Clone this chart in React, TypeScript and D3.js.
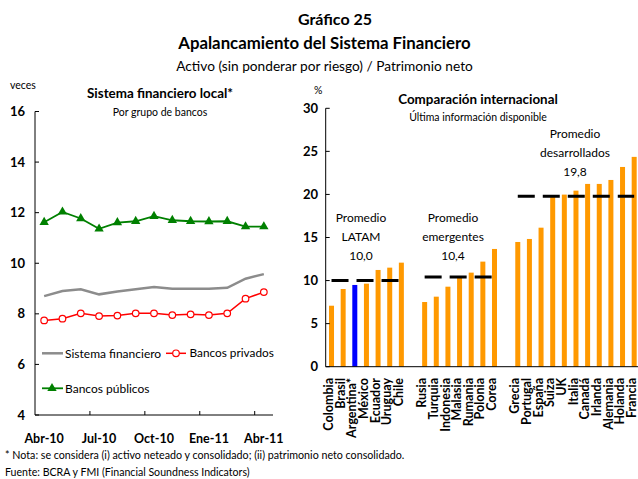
import React from "react";
import * as d3 from "d3";

const months = ["Abr-10","May-10","Jun-10","Jul-10","Ago-10","Sep-10","Oct-10","Nov-10","Dic-10","Ene-11","Feb-11","Mar-11","Abr-11"];
const monthTickLabels = ["Abr-10","Jul-10","Oct-10","Ene-11","Abr-11"];
const sistemaFinanciero = [8.70, 8.90, 8.97, 8.77, 8.88, 8.97, 9.06, 8.99, 8.99, 8.99, 9.03, 9.39, 9.57];
const bancosPrivados = [7.74, 7.81, 8.02, 7.91, 7.93, 8.02, 8.02, 7.95, 7.98, 7.95, 8.02, 8.60, 8.86];
const bancosPublicos = [11.62, 12.03, 11.77, 11.36, 11.61, 11.66, 11.86, 11.70, 11.66, 11.65, 11.66, 11.45, 11.45];
const leftTicks = [4, 6, 8, 10, 12, 14, 16];

const latam = ["Colombia","Brasil","Argentina*","México","Ecuador","Uruguay","Chile"];
const latamValues = [7.08, 9.02, 9.49, 9.64, 11.23, 11.5, 12.08];
const emergentes = ["Rusia","Turquia","Indonesia","Malasia","Rumania","Polonia","Corea"];
const emergentesValues = [7.51, 8.13, 9.29, 10.53, 10.92, 12.2, 13.67];
const desarrollados = ["Grecia","Portugal","España","Suiza","UK","Italia","Canadá","Irlanda","Alemania","Holanda","Francia"];
const desarrolladosValues = [14.48, 14.83, 16.14, 19.74, 19.98, 20.44, 21.22, 21.22, 21.68, 23.19, 24.36];
const promedios = [10.0, 10.4, 19.8];
const promedioLabels = [["Promedio", "LATAM", "10,0"], ["Promedio", "emergentes", "10,4"], ["Promedio", "desarrollados", "19,8"]];
const rightTicks = [0, 5, 10, 15, 20, 25, 30];

const FONT = "Lato, 'Open Sans', sans-serif";

export default function App() {
  const xL = d3.scaleBand<string>().domain(months).range([35, 273]);
  const yL = d3.scaleLinear().domain([4, 16]).range([415, 111.5]);
  const cx = (m: string) => (xL(m) as number) + xL.bandwidth() / 2;
  const line = d3.line<number>().x((_, i) => cx(months[i])).y((d) => yL(d));

  const groups = [latam, emergentes, desarrollados];
  const groupValues = [latamValues, emergentesValues, desarrolladosValues];
  const slots: string[] = [];
  groups.forEach((g, gi) => {
    g.forEach((c) => slots.push(c));
    if (gi < groups.length - 1) slots.push("__gap" + gi);
  });
  const xR = d3.scaleBand<string>().domain(slots).range([325.7, 640]);
  const yR = d3.scaleLinear().domain([0, 30]).range([366.7, 108.3]);
  const bw = 5;
  const rc = (c: string) => (xR(c) as number) + xR.bandwidth() / 2;

  const tri = d3.symbol().type(d3.symbolTriangle).size(38)() as string;

  const labelPos = [
    { x: 361, y: 218 },
    { x: 453, y: 218 },
    { x: 575, y: 134 },
  ];

  return (
    <svg width={638} height={479} style={{ position: "absolute", left: 0, top: 0, background: "#fff" }} fontFamily={FONT}>
      <rect width={638} height={479} fill="#fff" />
      <text x={335} y={25} textAnchor="middle" fontSize={16} fontWeight="bold">Gráfico 25</text>
      <text x={324.5} y={49} textAnchor="middle" fontSize={16.8} fontWeight="bold">Apalancamiento del Sistema Financiero</text>
      <text x={324.5} y={71} textAnchor="middle" fontSize={13.7}>Activo (sin ponderar por riesgo) / Patrimonio neto</text>

      {/* Left chart */}
      <text x={10} y={89} fontSize={10.5}>veces</text>
      <text x={160} y={98} textAnchor="middle" fontSize={13.4} fontWeight="bold">Sistema financiero local*</text>
      <text x={160} y={116} textAnchor="middle" fontSize={10.5}>Por grupo de bancos</text>
      <line x1={35} x2={35} y1={111.5} y2={415} stroke="#000" />
      <line x1={35} x2={273} y1={415} y2={415} stroke="#000" />
      {leftTicks.map((t) => (
        <g key={t}>
          <line x1={35} x2={39} y1={yL(t)} y2={yL(t)} stroke="#000" />
          <text x={25} y={yL(t)} dy="0.35em" textAnchor="end" fontSize={13} fontWeight="bold">{t}</text>
        </g>
      ))}
      {[3, 6, 9, 12].map((i) => (
        <line key={i} x1={xL(months[i]) as number} x2={xL(months[i]) as number} y1={415} y2={411} stroke="#000" />
      ))}
      {monthTickLabels.map((m) => (
        <text key={m} x={cx(m)} y={443} textAnchor="middle" fontSize={12.5} fontWeight="bold">{m}</text>
      ))}
      <path d={line(sistemaFinanciero) as string} fill="none" stroke="#8c8c8c" strokeWidth={2.5} />
      <path d={line(bancosPrivados) as string} fill="none" stroke="#ff0000" strokeWidth={1.5} />
      {bancosPrivados.map((v, i) => (
        <circle key={i} cx={cx(months[i])} cy={yL(v)} r={3.3} fill="#fff" stroke="#ff0000" strokeWidth={1.2} />
      ))}
      <path d={line(bancosPublicos) as string} fill="none" stroke="#008000" strokeWidth={1.8} />
      {bancosPublicos.map((v, i) => (
        <path key={i} d={tri} transform={`translate(${cx(months[i])},${yL(v)})`} fill="#008000" />
      ))}
      {/* Legend */}
      <line x1={42} x2={63} y1={353.3} y2={353.3} stroke="#8c8c8c" strokeWidth={2.5} />
      <text x={65} y={353.3} dy="0.35em" fontSize={12}>Sistema financiero</text>
      <line x1={166} x2={186} y1={353.3} y2={353.3} stroke="#ff0000" strokeWidth={1.5} />
      <circle cx={176} cy={353.3} r={3.3} fill="#fff" stroke="#ff0000" strokeWidth={1.2} />
      <text x={189.5} y={353.3} dy="0.35em" fontSize={11.8}>Bancos privados</text>
      <line x1={42} x2={63} y1={388.3} y2={388.3} stroke="#008000" strokeWidth={1.8} />
      <path d={tri} transform={`translate(52,388.3)`} fill="#008000" />
      <text x={65} y={388.3} dy="0.35em" fontSize={12}>Bancos públicos</text>

      {/* Right chart */}
      <text x={314} y={94} fontSize={10.5}>%</text>
      <text x={478} y={104} textAnchor="middle" fontSize={13.4} fontWeight="bold">Comparación internacional</text>
      <text x={478} y={121} textAnchor="middle" fontSize={10.5}>Última información disponible</text>
      {groups.map((g, gi) =>
        g.map((c, i) => {
          const v = groupValues[gi][i];
          return (
            <rect key={c} x={rc(c) - bw / 2} y={yR(v)} width={bw} height={yR(0) - yR(v)} fill={c === "Argentina*" ? "#0000ff" : "#ff9900"} />
          );
        })
      )}
      <line x1={325.7} x2={325.7} y1={108.3} y2={366.7} stroke="#000" />
      <line x1={325.7} x2={638} y1={366.7} y2={366.7} stroke="#000" />
      {rightTicks.map((t) => (
        <g key={t}>
          <line x1={325.7} x2={329.7} y1={yR(t)} y2={yR(t)} stroke="#000" />
          <text x={318} y={yR(t)} dy="0.35em" textAnchor="end" fontSize={13} fontWeight="bold">{t}</text>
        </g>
      ))}
      {groups.map((g, gi) => (
        <line key={gi} x1={rc(g[0])} x2={rc(g[g.length - 1])} y1={yR(promedios[gi])} y2={yR(promedios[gi])} stroke="#000" strokeWidth={3} strokeDasharray="17,8" />
      ))}
      {promedioLabels.map((lines, gi) => (
        <g key={gi}>
          {lines.map((t, li) => (
            <text key={li} x={labelPos[gi].x} y={labelPos[gi].y + li * 19} dy="0.35em" textAnchor="middle" fontSize={12}>{t}</text>
          ))}
        </g>
      ))}
      {slots.filter((s) => !s.startsWith("__gap")).map((c) => (
        <text key={c} transform={`translate(${rc(c) - 1.5},378) rotate(-90)`} dy="0.25em" textAnchor="end" fontSize={12.5} fontWeight="bold">{c}</text>
      ))}

      {/* Footnotes */}
      <text x={5} y={459} fontSize={10.7}>* Nota: se considera (i) activo neteado y consolidado; (ii) patrimonio neto consolidado.</text>
      <text x={5} y={476} fontSize={10.6}>Fuente: BCRA y FMI (Financial Soundness Indicators)</text>
    </svg>
  );
}
